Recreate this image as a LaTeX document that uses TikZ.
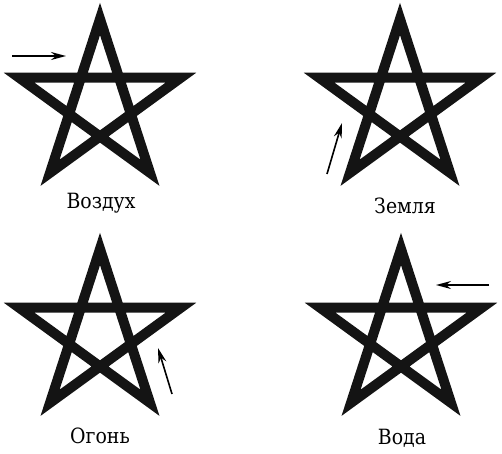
\documentclass[tikz,border=0pt]{standalone}
\usepackage{fontspec}
\setmainfont{DejaVu Serif Condensed}
\usetikzlibrary{arrows.meta,calc}
\tikzset{
  starline/.style={line width=10pt, line join=miter, miter limit=10, draw=black!92},
  arr/.style={line width=1.6pt, -{Stealth[length=15pt,width=8pt]}},
  lab/.style={font=\fontsize{21}{24}\selectfont, anchor=base, inner sep=0pt},
}
\begin{document}
\begin{tikzpicture}[x=1pt,y=-1pt]
\useasboundingbox (0,0) rectangle (502,453);
\foreach \n/\cx/\cy in {a/100/104, b/400/104, c/100/334, d/401/334}{
  \foreach \i in {0,...,4}{
    \pgfmathsetmacro\ang{90+72*\i}
    \coordinate (\n\i) at ($(\cx,\cy)+(\ang:85pt)$);
  }
}
\foreach \n in {a,b,c,d}{
  \draw[starline] (\n0)--(\n2)--(\n4)--(\n1)--(\n3)--cycle;
}
% arrows
\coordinate (as) at (12,56);  \coordinate (ae) at (66,56);
\coordinate (bs) at (327,174); \coordinate (be) at (342,123);
\coordinate (cs) at (172,394); \coordinate (ce) at (158,348);
\coordinate (ds) at (489,285); \coordinate (de) at (436,285);
\draw[arr] (as)--(ae);
\draw[arr] (bs)--(be);
\draw[arr] (cs)--(ce);
\draw[arr] (ds)--(de);
% labels
\node[lab] (la) at (101,208) {Воздух};
\node[lab] (lb) at (405,213) {Земля};
\node[lab] (lc) at (100,443) {Огонь};
\node[lab] (ld) at (402,444) {Вода};
\end{tikzpicture}
\end{document}
